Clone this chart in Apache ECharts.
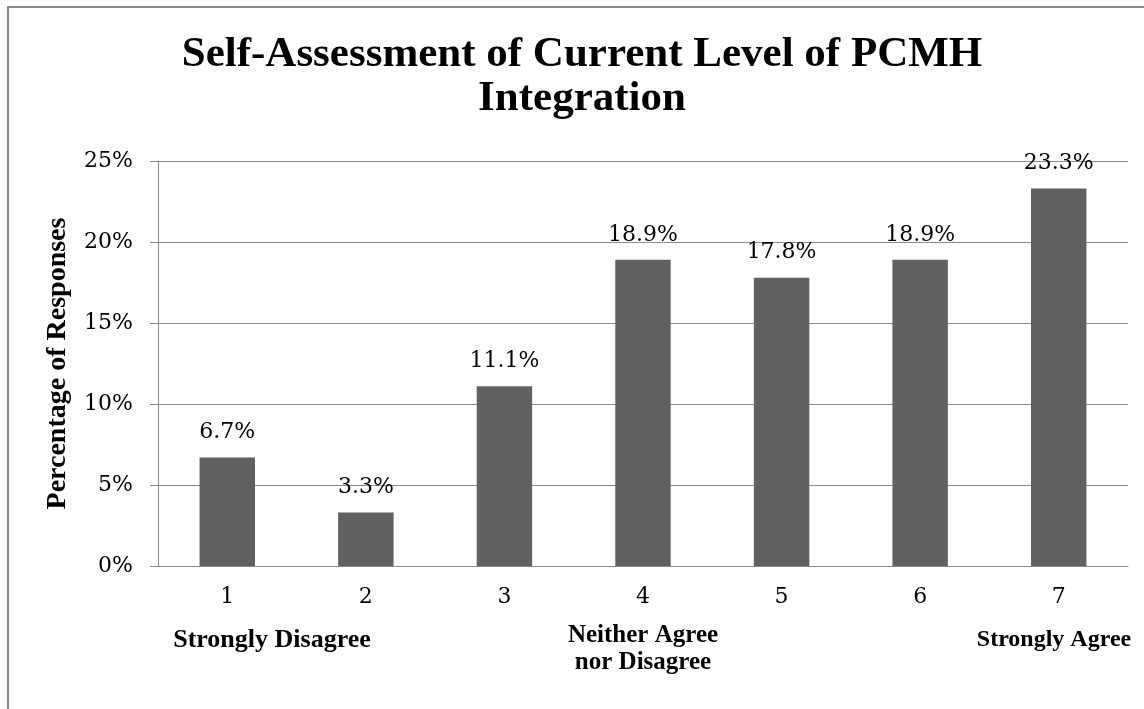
<!DOCTYPE html>
<html>
<head>
<meta charset="utf-8">
<script src="https://cdn.jsdelivr.net/npm/echarts@6/dist/echarts.min.js"></script>
<style>
  html, body { margin: 0; padding: 0; background: #fff; }
  #chart { width: 1144px; height: 709px; }
</style>
</head>
<body>
<div id="chart"></div>
<script>
// scale points 1..7
const categories = ['1', '2', '3', '4', '5', '6', '7'];
// percentage of responses
const percents = [6.7, 3.3, 11.1, 18.9, 17.8, 18.9, 23.3];
const yTicks = [0, 5, 10, 15, 20, 25];

const times = '"Liberation Serif", serif';
const numFont = '"DejaVu Serif", serif';

const chart = echarts.init(document.getElementById('chart'));

const option = {
    backgroundColor: '#fff',
    animation: false,
    grid: { left: 158, right: 16, top: 161, bottom: 143 },
    xAxis: {
        type: 'category',
        data: categories,
        axisLine: { lineStyle: { color: '#888' } },
        axisTick: { length: 8, lineStyle: { color: '#888' } },
        axisLabel: { margin: 20, fontFamily: numFont, fontSize: 22, color: '#000' }
    },
    yAxis: {
        type: 'value',
        min: yTicks[0],
        max: yTicks[yTicks.length - 1],
        interval: 5,
        name: 'Percentage of Responses',
        nameLocation: 'middle',
        nameGap: 86,
        nameRotate: 90,
        nameTextStyle: { fontFamily: times, fontWeight: 'bold', fontSize: 28, color: '#000' },
        axisLine: { show: true, lineStyle: { color: '#888' } },
        axisTick: { show: true, length: 8, lineStyle: { color: '#888' } },
        splitLine: { lineStyle: { color: '#8c8c8c' } },
        axisLabel: {
            margin: 25,
            fontFamily: numFont,
            fontSize: 22,
            color: '#000',
            formatter: v => v + '%'
        }
    },
    series: [{
        type: 'bar',
        data: percents,
        barWidth: '40%',
        itemStyle: { color: '#606060' },
        label: {
            show: true,
            position: 'top',
            distance: 14,
            fontFamily: numFont,
            fontSize: 22,
            color: '#000',
            formatter: p => p.value.toFixed(1) + '%'
        }
    }],
    graphic: [
        {
            type: 'rect',
            shape: { x: 8, y: 7, width: 1160, height: 740 },
            style: { fill: 'none', stroke: '#888', lineWidth: 2 },
            silent: true
        },
        {
            type: 'text', x: 582, y: 55,
            style: { text: 'Self-Assessment of Current Level of PCMH', align: 'center', verticalAlign: 'middle',
                font: 'bold 43px ' + times, fill: '#000' }
        },
        {
            type: 'text', x: 582, y: 99,
            style: { text: 'Integration', align: 'center', verticalAlign: 'middle',
                font: 'bold 43px ' + times, fill: '#000' }
        },
        {
            type: 'text', x: 272, y: 640,
            style: { text: 'Strongly Disagree', align: 'center', verticalAlign: 'middle',
                font: 'bold 26px ' + times, fill: '#000' }
        },
        {
            type: 'text', x: 643, y: 636,
            style: { text: 'Neither Agree', align: 'center', verticalAlign: 'middle',
                font: 'bold 25px ' + times, fill: '#000' }
        },
        {
            type: 'text', x: 643, y: 663,
            style: { text: 'nor Disagree', align: 'center', verticalAlign: 'middle',
                font: 'bold 25px ' + times, fill: '#000' }
        },
        {
            type: 'text', x: 1054, y: 640,
            style: { text: 'Strongly Agree', align: 'center', verticalAlign: 'middle',
                font: 'bold 24px ' + times, fill: '#000' }
        }
    ]
};

chart.setOption(option);
</script>
</body>
</html>
